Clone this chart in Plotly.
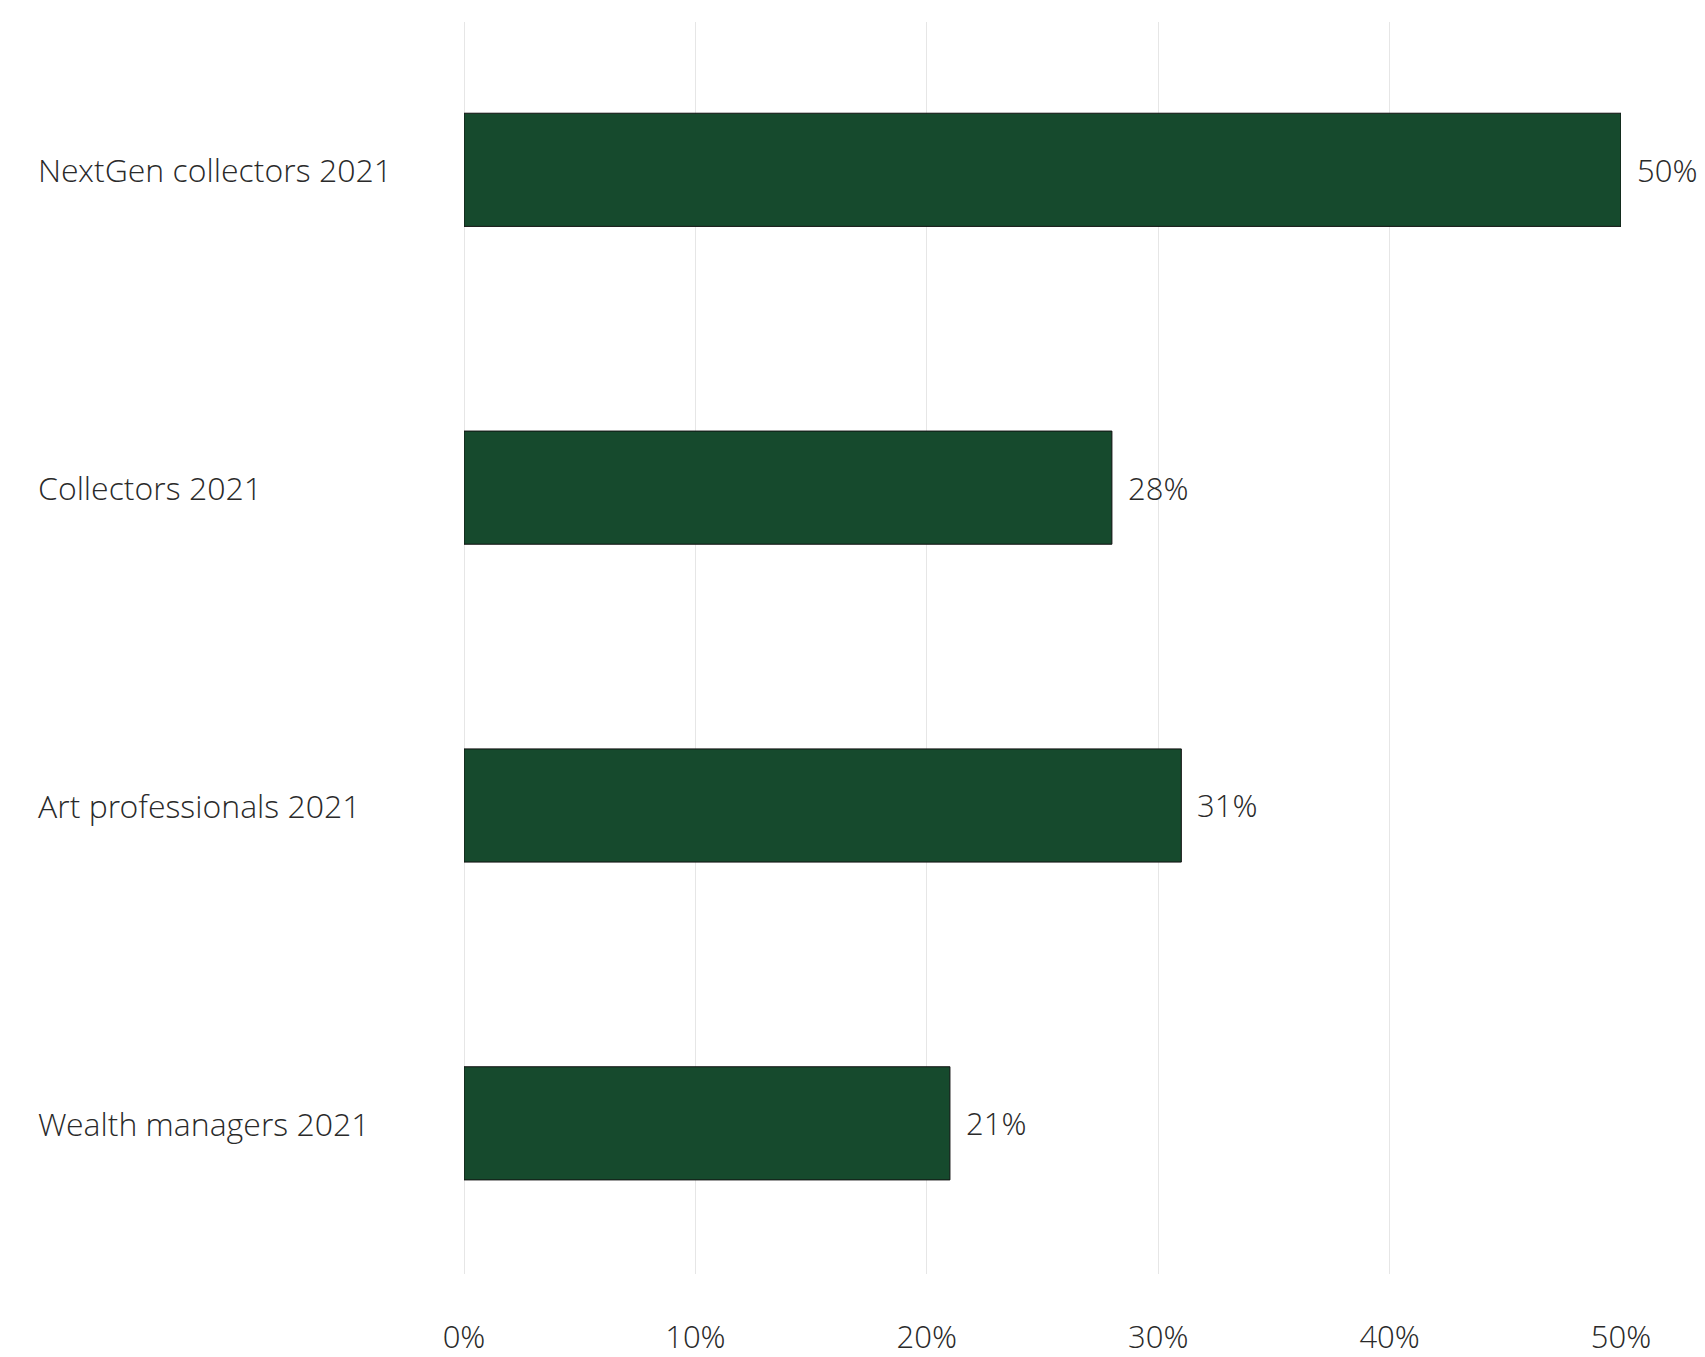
import plotly.graph_objects as go

# Share of respondents, by group
categories = [
    "NextGen collectors 2021",
    "Collectors 2021",
    "Art professionals 2021",
    "Wealth managers 2021",
]
values = [50, 28, 31, 21]
x_ticks = [0, 10, 20, 30, 40, 50]
x_tick_labels = ["0%", "10%", "20%", "30%", "40%", "50%"]

FONT = "Open Sans Light, Open Sans"
TEXT_COLOR = "#2a2a2a"
BAR_COLOR = "#164a2d"
LABEL_SIZE = 32
VALUE_SIZE = 31

fig = go.Figure(
    go.Bar(
        x=values,
        y=categories,
        orientation="h",
        width=0.356,
        marker=dict(color=BAR_COLOR, line=dict(color="#111111", width=1)),
        hoverinfo="skip",
    )
)

# Left-aligned category labels
for cat in categories:
    fig.add_annotation(
        x=-0.370, xref="paper", y=cat, yref="y",
        text=cat, showarrow=False, xanchor="left", yanchor="middle",
        font=dict(family=FONT, size=LABEL_SIZE, color=TEXT_COLOR, weight=300),
    )

# Value labels at the end of each bar
for cat, v in zip(categories, values):
    fig.add_annotation(
        x=v, xref="x", y=cat, yref="y",
        text=f"{v}%", showarrow=False, xanchor="left", yanchor="middle",
        xshift=14,
        font=dict(family=FONT, size=VALUE_SIZE, color=TEXT_COLOR, weight=300),
    )

fig.update_layout(
    width=1705,
    height=1357,
    margin=dict(l=464, r=84, t=22, b=83),
    paper_bgcolor="white",
    plot_bgcolor="white",
    showlegend=False,
    xaxis=dict(
        range=[0, 50],
        tickvals=x_ticks,
        ticktext=x_tick_labels,
        showgrid=True,
        gridcolor="#e6e6e6",
        gridwidth=1,
        zeroline=True,
        zerolinecolor="#e6e6e6",
        zerolinewidth=1,
        showline=False,
        ticks="",
        automargin=False,
        ticklabelstandoff=42,
        tickfont=dict(family=FONT, size=VALUE_SIZE, color=TEXT_COLOR, weight=300),
    ),
    yaxis=dict(
        type="category",
        categoryorder="array",
        categoryarray=categories,
        range=[3.474, -0.465],
        showticklabels=False,
        showgrid=False,
        zeroline=False,
        showline=False,
        ticks="",
        automargin=False,
    ),
)

fig.write_html("out.html")
